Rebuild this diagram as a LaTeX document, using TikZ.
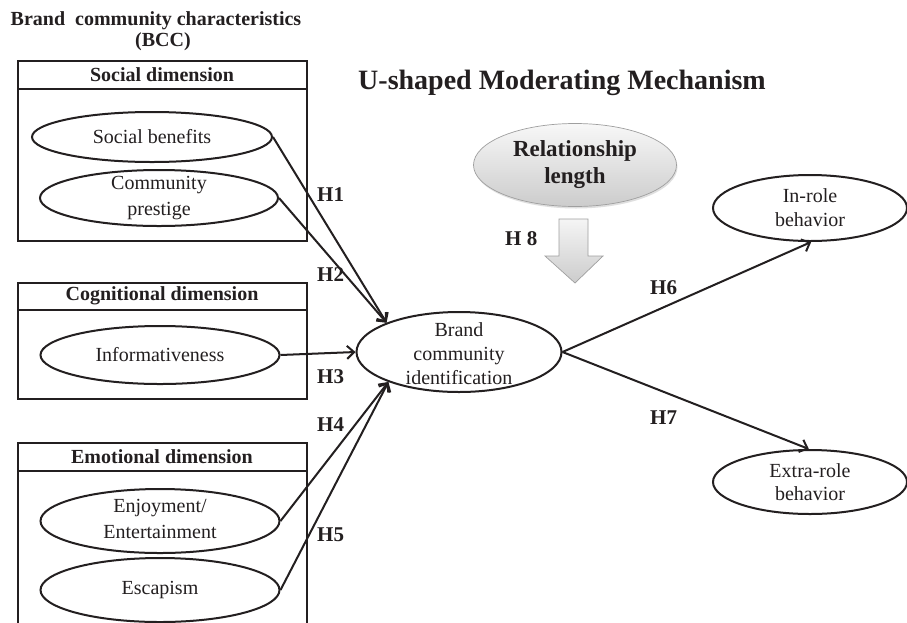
\documentclass[tikz,border=0pt]{standalone}
\usepackage{fontspec}
\setmainfont{Liberation Serif}
\usetikzlibrary{shapes.geometric,arrows.meta,shadows}
\definecolor{ink}{HTML}{231F20}
\tikzset{
  oval/.style={draw=ink, ellipse, line width=2pt, inner sep=0pt},
  lbl/.style={text=ink, font=\fontsize{20}{24}\selectfont, align=center, inner sep=0pt},
  hd/.style={text=ink, font=\bfseries\fontsize{20}{24}\selectfont, inner sep=0pt},
  hyp/.style={text=ink, font=\bfseries\fontsize{21}{24}\selectfont, inner sep=0pt, anchor=west},
  link/.style={draw=ink, line width=2pt, -{Straight Barb[length=7pt,width=13pt,line width=2pt]}},
  panel/.style={draw=ink, line width=2.2pt}
}
\begin{document}
\begin{tikzpicture}[x=1pt,y=-1pt]
\useasboundingbox (0,0) rectangle (907,622);
\fill[white] (0,0) rectangle (907,622);

% titles
\node[hd] (t1) at (156,21) {Brand\ \ community characteristics};
\node[hd] (t2) at (163,42) {(BCC)};
\node[hd, font=\bfseries\fontsize{28}{32}\selectfont] (t3) at (562,83) {U-shaped Moderating Mechanism};

% panels
\draw[panel] (18,61) rectangle (307,241);
\draw[panel] (18,89) -- (307,89);
\node[hd] (h1) at (162,75) {Social dimension};
\draw[panel] (18,283) rectangle (307,399);
\draw[panel] (18,310) -- (307,310);
\node[hd] (h2) at (162,296) {Cognitional dimension};
\draw[panel] (18,626) -- (18,443) -- (307,443) -- (307,626);
\draw[panel] (18,471) -- (307,471);
\node[hd] (h3) at (162,457) {Emotional dimension};

% left ellipses
\node[oval, minimum width=240pt, minimum height=50pt] (sb) at (152,137) {};
\node[lbl] at (sb) {Social benefits};
\node[oval, minimum width=238pt, minimum height=56pt] (cp) at (159,198) {};
\node[lbl, font=\fontsize{20}{26}\selectfont] at (cp) {Community\\prestige};
\node[oval, minimum width=239pt, minimum height=58pt] (inf) at (160,355) {};
\node[lbl] at (inf) {Informativeness};
\node[oval, minimum width=239pt, minimum height=64pt] (enj) at (160,521) {};
\node[lbl, font=\fontsize{20}{26}\selectfont] at (160,519) {Enjoyment/\\Entertainment};
\node[oval, minimum width=239pt, minimum height=64pt] (esc) at (160,590) {};
\node[lbl] at (esc) {Escapism};

% central
\node[oval, minimum width=205pt, minimum height=80pt] (bci) at (459,352) {};
\node[lbl] at (459,354) {Brand\\community\\identification};

% outcomes
\node[oval, minimum width=194pt, minimum height=66pt] (ir) at (810,208) {};
\node[lbl] at (ir) {In-role\\behavior};
\node[oval, minimum width=194pt, minimum height=64pt] (er) at (810,482) {};
\node[lbl, font=\fontsize{20}{23}\selectfont] at (er) {Extra-role\\behavior};

% moderator
\node[ellipse, draw=gray!75, line width=0.7pt, top color=gray!6, bottom color=gray!40,
      drop shadow={opacity=0.25, shadow xshift=1pt, shadow yshift=-2pt},
      minimum width=203pt, minimum height=83pt, inner sep=0pt] (rl) at (575,165) {};
\node[hd, font=\bfseries\fontsize{23}{27}\selectfont, align=center] at (rl) {Relationship\\length};
\draw[draw=gray!75, line width=0.7pt, top color=gray!8, bottom color=gray!40]
  (559,219) -- (588,219) -- (588,256) -- (603,256) -- (575,283) -- (545,256) -- (559,256) -- cycle;
\node[hyp] at (505,239) {H 8};

% connectors
\draw[link] (sb.east) -- (bci.158);
\draw[link] (cp.east) -- (bci.158);
\draw[link] (inf.east) -- (bci.west);
\draw[link] (enj.east) -- (bci.203);
\draw[link] (esc.east) -- (bci.203);
\draw[link] (bci.east) -- (ir.-88);
\draw[link] (bci.east) -- (er.92);

% hypothesis labels
\node[hyp] at (317,195) {H1};
\node[hyp] at (317,275) {H2};
\node[hyp] at (317,377) {H3};
\node[hyp] at (317,425) {H4};
\node[hyp] at (317,535) {H5};
\node[hyp] at (650,288) {H6};
\node[hyp] at (650,418) {H7};
\end{tikzpicture}
\end{document}
